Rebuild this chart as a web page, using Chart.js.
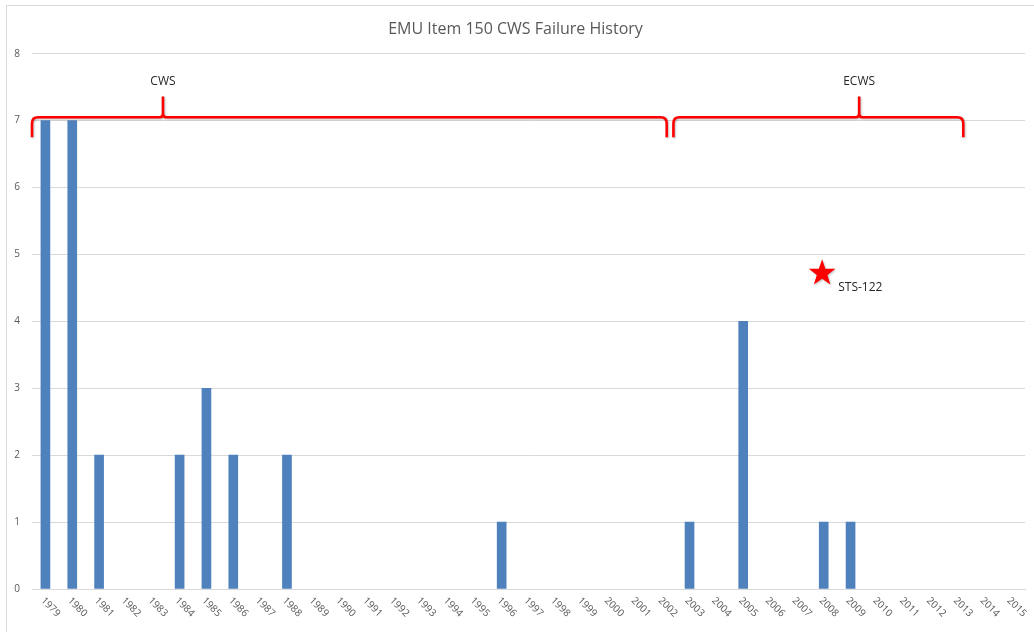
<!DOCTYPE html>
<html>
<head>
<meta charset="utf-8">
<script src="https://cdn.jsdelivr.net/npm/chart.js@4.4.1/dist/chart.umd.min.js"></script>
<style>
html,body{margin:0;padding:0;background:#fff;}
canvas{display:block;}
</style>
</head>
<body>
<canvas id="c" width="1034" height="632"></canvas>
<script>
const years = ['1979','1980','1981','1982','1983','1984','1985','1986','1987','1988','1989','1990','1991','1992','1993','1994','1995','1996','1997','1998','1999','2000','2001','2002','2003','2004','2005','2006','2007','2008','2009','2010','2011','2012','2013','2014','2015'];
const failures = [7,7,2,0,0,2,3,2,0,2,0,0,0,0,0,0,0,1,0,0,0,0,0,0,1,0,4,0,0,1,1,0,0,0,0,0,0];
const yTicks = [0,1,2,3,4,5,6,7,8];
const chartTitle = 'EMU Item 150 CWS Failure History';
// annotation anchors in data units (category index, value)
const braces = [
  {label:'CWS',  from:-0.5, to:23.15, peak:4.38},
  {label:'ECWS', from:23.4, to:34.2,  peak:30.32}
];
const braceLevel = 7.05, braceTip = 6.75, bracePeak = 7.36, braceLabelY = 7.58;
const star = {label:'STS-122', x:28.94, y:4.72, labelX:29.54, labelY:4.5};

const FONT = "'Open Sans', 'Noto Sans', sans-serif";

const decor = {
  id:'decor',
  beforeDraw(chart){
    const ctx = chart.ctx;
    ctx.save();
    ctx.fillStyle = '#fff';
    ctx.fillRect(0,0,chart.width,chart.height);
    ctx.strokeStyle = '#d9d9d9';
    ctx.lineWidth = 1;
    ctx.beginPath();
    ctx.moveTo(6.5, chart.height);
    ctx.lineTo(6.5, 5.5);
    ctx.lineTo(chart.width, 5.5);
    ctx.stroke();
    ctx.restore();
  },
  afterDraw(chart){
    const ctx = chart.ctx;
    const xs = chart.scales.x, ys = chart.scales.y;
    // x tick labels rotated downward
    ctx.save();
    ctx.fillStyle = '#595959';
    ctx.font = "10px " + FONT;
    ctx.textAlign = 'left';
    ctx.textBaseline = 'middle';
    const y0 = ys.getPixelForValue(0);
    years.forEach((yr,i)=>{
      const px = xs.getPixelForValue(i);
      ctx.save();
      ctx.translate(px - 3, y0 + 10);
      ctx.rotate(Math.PI/4);
      ctx.fillText(yr, 0, 0);
      ctx.restore();
    });
    ctx.restore();

    // braces
    ctx.save();
    ctx.strokeStyle = '#ff0000';
    ctx.lineWidth = 2.6;
    ctx.lineJoin = 'round';
    ctx.lineCap = 'butt';
    ctx.shadowColor = 'rgba(0,0,0,0.25)';
    ctx.shadowBlur = 2;
    ctx.shadowOffsetX = 1; ctx.shadowOffsetY = 1;
    const yl = ys.getPixelForValue(braceLevel);
    const yt = ys.getPixelForValue(braceTip);
    const yp = ys.getPixelForValue(bracePeak);
    braces.forEach(b=>{
      const x1 = xs.getPixelForValue(b.from);
      const x2 = xs.getPixelForValue(b.to);
      const xm = xs.getPixelForValue(b.peak);
      const r = 6;
      ctx.beginPath();
      ctx.moveTo(x1, yt);
      ctx.lineTo(x1, yl + r);
      ctx.quadraticCurveTo(x1, yl, x1 + r, yl);
      ctx.lineTo(xm - 3, yl);
      ctx.quadraticCurveTo(xm, yl, xm, yl - 4);
      ctx.lineTo(xm, yp);
      ctx.moveTo(xm, yl - 4);
      ctx.quadraticCurveTo(xm, yl, xm + 3, yl);
      ctx.lineTo(x2 - r, yl);
      ctx.quadraticCurveTo(x2, yl, x2, yl + r);
      ctx.lineTo(x2, yt);
      ctx.stroke();
    });
    ctx.restore();

    ctx.save();
    ctx.fillStyle = '#262626';
    ctx.font = "12px " + FONT;
    ctx.textAlign = 'center';
    ctx.textBaseline = 'middle';
    braces.forEach(b=>{
      ctx.fillText(b.label, xs.getPixelForValue(b.peak), ys.getPixelForValue(braceLabelY));
    });
    ctx.restore();

    // star
    ctx.save();
    const sx = xs.getPixelForValue(star.x), sy = ys.getPixelForValue(star.y);
    const R = 14, r2 = 5.6;
    ctx.fillStyle = '#ff0000';
    ctx.shadowColor = 'rgba(0,0,0,0.25)';
    ctx.shadowBlur = 2;
    ctx.shadowOffsetX = 1; ctx.shadowOffsetY = 1;
    ctx.beginPath();
    for(let k=0;k<10;k++){
      const ang = -Math.PI/2 + k*Math.PI/5;
      const rr = (k%2===0)?R:r2;
      const px = sx + rr*Math.cos(ang), py = sy + rr*Math.sin(ang);
      if(k===0) ctx.moveTo(px,py); else ctx.lineTo(px,py);
    }
    ctx.closePath();
    ctx.fill();
    ctx.restore();
    ctx.save();
    ctx.fillStyle = '#262626';
    ctx.font = "12px " + FONT;
    ctx.textAlign = 'left';
    ctx.textBaseline = 'middle';
    ctx.fillText(star.label, xs.getPixelForValue(star.labelX), ys.getPixelForValue(star.labelY));
    ctx.restore();
  }
};

new Chart(document.getElementById('c'), {
  type:'bar',
  data:{
    labels: years,
    datasets:[{
      label:'Failures',
      data: failures,
      backgroundColor: ctx => (ctx.raw ? '#4f81bd' : 'rgba(0,0,0,0)'),
      borderWidth:0,
      barThickness:9
    }]
  },
  options:{
    responsive:false,
    animation:false,
    devicePixelRatio:1,
    layout:{padding:{left:6, right:9, top:0, bottom:0}},
    plugins:{
      legend:{display:false},
      tooltip:{enabled:false},
      title:{
        display:true,
        text: chartTitle,
        color:'#595959',
        font:{family:FONT, size:16, weight:'normal'},
        padding:{top:19.5, bottom:15}
      }
    },
    scales:{
      x:{
        grid:{display:false},
        border:{display:true, color:'#d9d9d9'},
        ticks:{display:false},
        afterFit(s){ s.height = 43; }
      },
      y:{
        min:0, max:8,
        afterBuildTicks(s){ s.ticks = yTicks.map(v=>({value:v})); },
        grid:{color:'#d9d9d9', drawTicks:false},
        border:{display:false},
        ticks:{color:'#595959', padding:12, font:{family:FONT, size:10}},
        afterFit(s){ s.width = 26; }
      }
    }
  },
  plugins:[decor]
});
</script>
</body>
</html>
